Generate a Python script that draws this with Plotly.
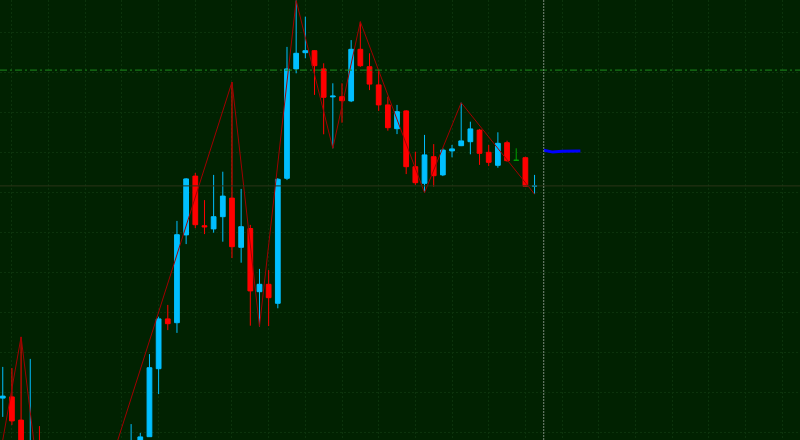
import plotly.graph_objects as go

# ---- candle data (index, open, high, low, close) ----
idx = list(range(0, 59))
opens = [108.6, 108.9, 103.1, 88.0, 95.0, 80.0, 70.0, 80.0, 82.0, 75.0,
         74.0, 80.0, 85.0, 83.0, 90.0, 95.0, 98.95, 115.95, 128.4, 127.45,
         149.4, 164.1, 151.7, 150.9, 153.95, 158.6, 146.3, 151.0, 135.2, 137.05,
         132.3, 163.55, 190.9, 194.95, 195.45, 190.9, 183.9, 183.95, 182.9, 195.8,
         191.45, 186.9, 181.9, 175.95, 180.4, 166.45, 162.3, 168.95, 164.4, 170.4,
         171.7, 172.7, 175.6, 170.05, 166.8, 172.45, 168.05, 168.7, 161.6]
highs = [116.4, 116.1, 123.9, 118.4, 101.6, 84.0, 83.0, 85.0, 84.0, 77.0,
         82.0, 88.0, 89.0, 93.0, 102.1, 99.9, 119.6, 128.95, 131.9, 152.9,
         163.6, 164.9, 158.1, 164.4, 165.2, 187.6, 160.9, 151.9, 140.9, 140.6,
         163.6, 196.4, 208.0, 203.95, 195.6, 192.3, 187.3, 187.3, 198.1, 202.7,
         194.8, 190.6, 183.95, 181.9, 180.6, 170.2, 174.4, 172.1, 171.05, 171.9,
         182.45, 177.7, 175.9, 171.9, 175.05, 172.95, 171.05, 168.95, 164.4]
lows = [103.9, 101.9, 92.0, 86.0, 78.0, 67.6, 69.0, 78.0, 74.0, 72.6,
        73.5, 78.0, 81.0, 82.0, 88.0, 93.0, 98.9, 109.6, 125.6, 124.9,
        147.1, 151.1, 149.6, 149.95, 147.7, 143.6, 142.45, 126.7, 126.5, 126.6,
        131.05, 163.1, 189.8, 193.55, 184.4, 174.55, 171.05, 177.45, 182.6, 191.4,
        185.6, 180.4, 175.45, 174.6, 164.6, 161.9, 159.95, 161.45, 164.1, 168.8,
        171.6, 169.55, 166.9, 166.6, 166.2, 167.7, 168.05, 161.4, 159.6]
closes = [109.1, 102.9, 94.0, 95.0, 80.0, 70.0, 80.0, 82.0, 75.0, 74.0,
          80.0, 85.0, 83.0, 90.0, 95.0, 98.9, 116.2, 128.4, 127.2, 149.45,
          163.4, 151.95, 151.4, 153.95, 159.1, 146.45, 151.45, 135.4, 137.05, 133.7,
          163.3, 190.9, 194.8, 195.45, 191.7, 183.8, 184.1, 182.95, 195.8, 191.7,
          187.1, 181.9, 176.2, 180.2, 166.45, 162.45, 169.4, 164.2, 170.6, 170.9,
          172.9, 175.9, 169.8, 167.55, 172.3, 167.95, 168.05, 161.55, 161.65]

special_idx = [56]  # flat (open == close) bar drawn in green

# ---- zigzag pivots ----
zz_x = [-1, 2, 5, 7, 9, 25, 28, 32, 36, 39, 46, 50, 58]
zz_y = [85.2, 123.9, 67.6, 85.0, 72.6, 187.6, 126.5, 208.0, 171.05, 202.7, 159.95, 182.45, 159.6]

# ---- forecast line ----
fc_x = [59, 60, 61, 62, 63]
fc_y = [170.55, 170.1, 170.3, 170.35, 170.35]

level_line = 190.6
last_price = closes[-1]
cursor_x = 59

BG = "#012201"
UP = "#00BFFF"
DN = "#FF0000"

normal = [i for i in idx if i not in special_idx]

fig = go.Figure()
fig.add_trace(go.Candlestick(
    x=normal,
    open=[opens[i] for i in normal], high=[highs[i] for i in normal],
    low=[lows[i] for i in normal], close=[closes[i] for i in normal],
    increasing=dict(line=dict(color=UP, width=1), fillcolor=UP),
    decreasing=dict(line=dict(color=DN, width=1), fillcolor=DN),
    showlegend=False, hoverinfo="skip",
))
fig.add_trace(go.Candlestick(
    x=special_idx,
    open=[opens[i] for i in special_idx], high=[highs[i] for i in special_idx],
    low=[lows[i] for i in special_idx], close=[closes[i] for i in special_idx],
    increasing=dict(line=dict(color="#00A000", width=1), fillcolor="#00A000"),
    decreasing=dict(line=dict(color="#00A000", width=1), fillcolor="#00A000"),
    showlegend=False, hoverinfo="skip",
))
fig.add_trace(go.Scatter(x=zz_x, y=zz_y, mode="lines",
                         line=dict(color="#A00000", width=1), showlegend=False, hoverinfo="skip"))
fig.add_trace(go.Scatter(x=fc_x, y=fc_y, mode="lines",
                         line=dict(color="#0000FF", width=3), showlegend=False, hoverinfo="skip"))

fig.add_hline(y=level_line, line=dict(color="#1E8C1E", width=1, dash="7px,3px,2px,3px"))
fig.add_hline(y=last_price, line=dict(color="#2c3418", width=1))
fig.add_vline(x=cursor_x, line=dict(color="#7a8a7a", width=1, dash="2px,1px"))

fig.update_layout(
    width=800, height=440,
    margin=dict(l=0, r=0, t=0, b=0),
    paper_bgcolor=BG, plot_bgcolor=BG,
    showlegend=False,
    boxgap=0.26, boxmode="overlay",
)
GRID = "#0c330c"
fig.update_xaxes(range=[-0.3, 86.95], showgrid=True, gridcolor=GRID, griddash="2px,2px",
                 gridwidth=1, tick0=1, dtick=4, showticklabels=False, zeroline=False,
                 rangeslider=dict(visible=False), ticks="")
fig.update_yaxes(range=[98.125, 208.125], showgrid=True, gridcolor=GRID, griddash="2px,2px",
                 gridwidth=1, tick0=100, dtick=10, showticklabels=False, zeroline=False, ticks="")

fig.write_html("out.html",
               config={"displayModeBar": False, "staticPlot": True},
               post_script="document.body.style.margin='0';document.body.style.overflow='hidden';")
